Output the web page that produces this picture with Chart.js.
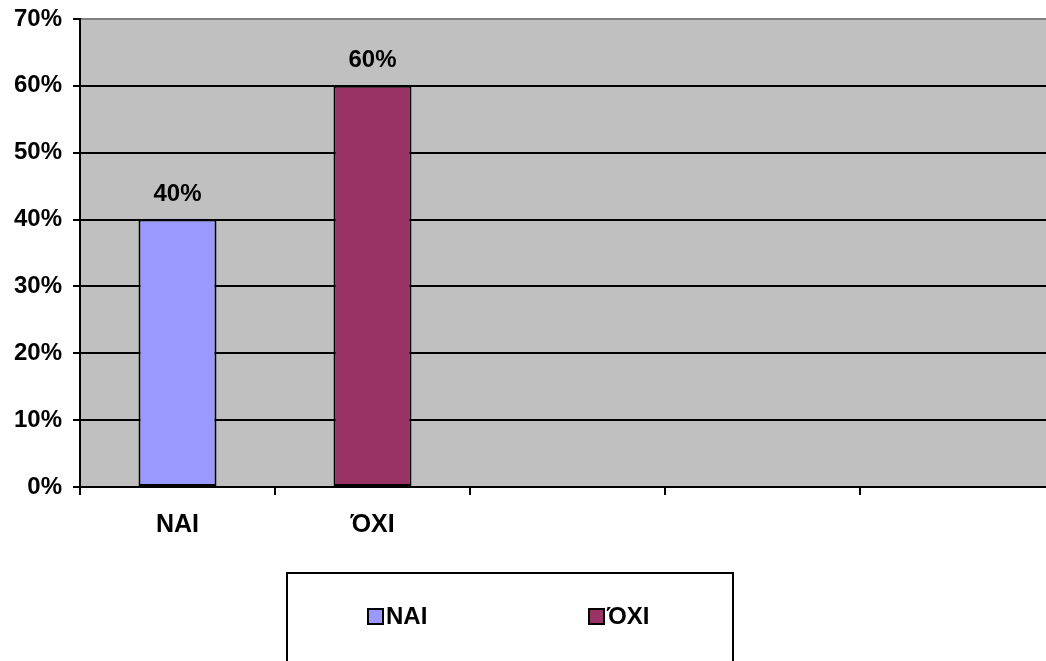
<!DOCTYPE html>
<html>
<head>
<meta charset="utf-8">
<script src="https://cdn.jsdelivr.net/npm/chart.js@4.4.1/dist/chart.umd.min.js"></script>
<style>
  html, body { margin: 0; padding: 0; background: #ffffff; overflow: hidden; }
  #wrap { position: absolute; left: 0; top: 0; width: 1060px; height: 661px; }
</style>
</head>
<body>
<div id="wrap"><canvas id="c"></canvas></div>
<script>
const categories = ['ΝΑΙ', 'ΌΧΙ', '', '', ''];
const seriesNames = ['ΝΑΙ', 'ΌΧΙ'];
const naiValues = [40, null, null, null, null];
const oxiValues = [null, 60, null, null, null];
const seriesColors = ['#9999FF', '#993366'];
const yTicks = [0, 10, 20, 30, 40, 50, 60, 70];

const FONT = '"Liberation Sans", Arial, sans-serif';

const plotBg = {
  id: 'plotBg',
  beforeDraw(chart) {
    const a = chart.chartArea, ctx = chart.ctx;
    ctx.save();
    ctx.fillStyle = '#C0C0C0';
    ctx.fillRect(a.left, a.top, a.right - a.left, a.bottom - a.top);
    ctx.restore();
  }
};

const valueLabels = {
  id: 'valueLabels',
  afterDatasetsDraw(chart) {
    const ctx = chart.ctx;
    ctx.save();
    ctx.font = 'bold 24px ' + FONT;
    ctx.fillStyle = '#000';
    ctx.textAlign = 'center';
    ctx.textBaseline = 'alphabetic';
    chart.data.datasets.forEach((ds, i) => {
      const meta = chart.getDatasetMeta(i);
      meta.data.forEach((bar, j) => {
        const v = ds.data[j];
        if (v === null || v === undefined) return;
        ctx.fillText(v + '%', bar.x, bar.y - 19);
      });
    });
    ctx.restore();
  }
};

const boxLegend = {
  id: 'boxLegend',
  afterDraw(chart) {
    const ctx = chart.ctx;
    ctx.save();
    ctx.strokeStyle = '#000';
    ctx.lineWidth = 2;
    ctx.strokeRect(287, 573, 446, 100);
    ctx.font = 'bold 24px ' + FONT;
    ctx.textBaseline = 'middle';
    ctx.textAlign = 'left';
    const xs = [368, 589];
    chart.data.datasets.forEach((ds, i) => {
      const x = xs[i], y = 609;
      ctx.fillStyle = ds.backgroundColor;
      ctx.fillRect(x, y, 15, 15);
      ctx.strokeStyle = '#000';
      ctx.lineWidth = 2;
      ctx.strokeRect(x, y, 15, 15);
      ctx.fillStyle = '#000';
      ctx.fillText(ds.label, x + 18, y + 8);
    });
    ctx.restore();
  }
};

new Chart(document.getElementById('c'), {
  type: 'bar',
  data: {
    labels: categories,
    datasets: [
      { label: seriesNames[0], data: naiValues, backgroundColor: seriesColors[0], borderColor: '#000', borderWidth: 2, borderSkipped: false },
      { label: seriesNames[1], data: oxiValues, backgroundColor: seriesColors[1], borderColor: '#000', borderWidth: 2, borderSkipped: false }
    ]
  },
  options: {
    responsive: true,
    maintainAspectRatio: false,
    animation: false,
    devicePixelRatio: 1,
    layout: { padding: { top: 19, right: 5, left: 0, bottom: 0 } },
    datasets: { bar: { barPercentage: 0.4, categoryPercentage: 1.0 } },
    plugins: { legend: { display: false }, tooltip: { enabled: false } },
    scales: {
      x: {
        stacked: true,
        afterFit(s) { s.height = 174; s.paddingLeft = 0; s.paddingRight = 0; },
        grid: { display: true, drawOnChartArea: false, drawTicks: true, tickLength: 8, color: '#000', lineWidth: 2, offset: true },
        border: { display: true, color: '#000', width: 2 },
        ticks: { color: '#000', font: { family: FONT, size: 25, weight: 'bold' }, padding: 15, maxRotation: 0 }
      },
      y: {
        stacked: true,
        min: 0, max: 70,
        afterFit(s) { s.width = 80; s.paddingTop = 0; s.paddingBottom = 0; },
        afterBuildTicks(s) { s.ticks = yTicks.map(v => ({ value: v })); },
        grid: {
          drawTicks: true, tickLength: 7, tickColor: '#000', lineWidth: 2,
          color: (c) => (c.tick && c.tick.value === 70) ? '#808080' : '#000'
        },
        border: { display: true, color: '#000', width: 2 },
        ticks: { color: '#000', font: { family: FONT, size: 24, weight: 'bold' }, padding: 11, callback: (v) => v + '%' }
      }
    }
  },
  plugins: [plotBg, valueLabels, boxLegend]
});
</script>
</body>
</html>
